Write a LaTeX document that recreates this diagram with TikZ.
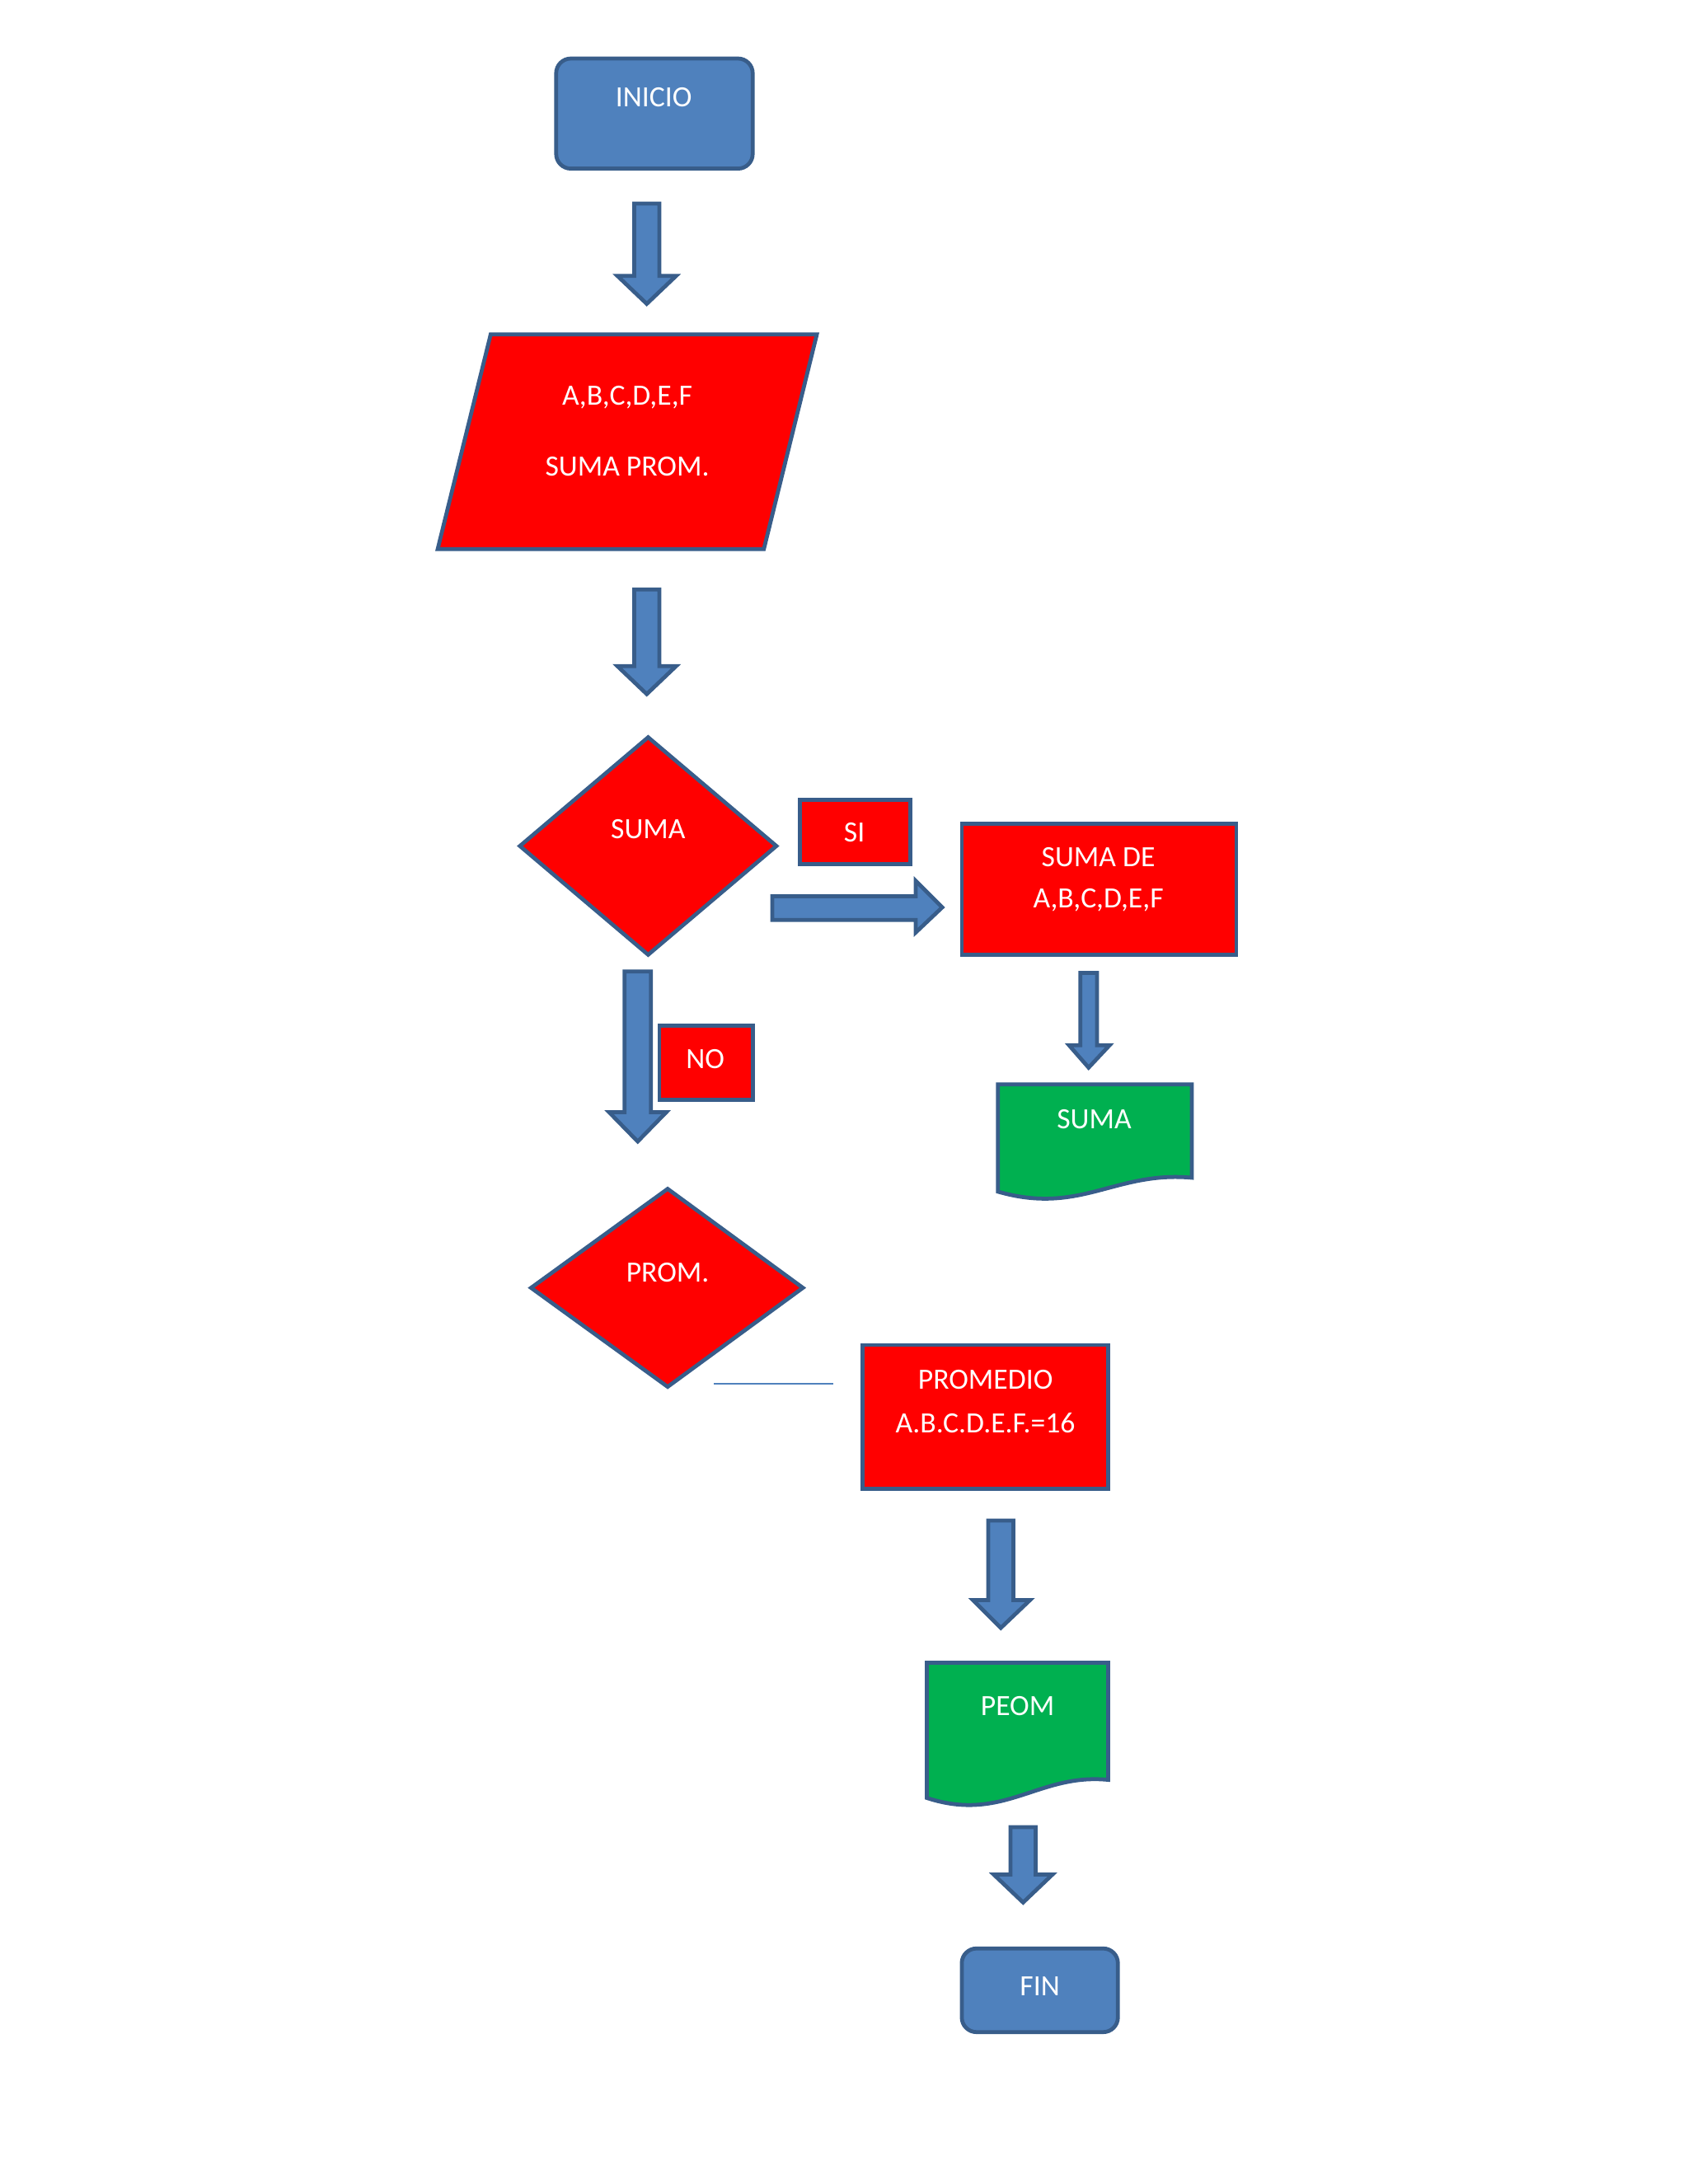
\documentclass[tikz,border=0pt]{standalone}
\usepackage{fontspec}
\setmainfont{Carlito}
\definecolor{bfill}{HTML}{4F81BD}
\definecolor{bline}{HTML}{385D8A}
\definecolor{rfill}{HTML}{FF0000}
\definecolor{gfill}{HTML}{00B050}
\newcommand{\blockdown}[7]{% shaft x1 x2, y1, neck y, head x1 x2, tip
  \draw[barrow] (#1,#3) -- (#2,#3) -- (#2,#4) -- (#6,#4) -- ({(#1+#2)/2},#7) -- (#5,#4) -- (#1,#4) -- cycle;}
\begin{document}
\begin{tikzpicture}[x=0.02cm,y=-0.02cm,
  every node/.style={font=\fontsize{12}{14}\selectfont, text=white},
  edge/.style={draw=bline, line width=1.6pt},
  barrow/.style={fill=bfill, draw=bline, line width=1.6pt, line join=miter},
  term/.style={edge, fill=bfill, rounded corners=6pt},
  red/.style={edge, fill=rfill},
  grn/.style={edge, fill=gfill}]
\useasboundingbox (0,0) rectangle (1211,1567);
% INICIO
\draw[term] (399,42) rectangle (540,121);
\node (inicio) at (469,70) {INICIO};
\blockdown{455}{473}{146}{198}{443}{485}{218}
% parallelogram
\draw[red] (352,240) -- (586,240) -- (548,394) -- (314,394) -- cycle;
\node (in1) at (450,285) {A,B,C,D,E,F};
\node (in2) at (450,335) {SUMA PROM.};
\blockdown{455}{473}{423}{478}{443}{485}{498}
% diamond SUMA
\draw[red] (465,529) -- (557,607) -- (465,685) -- (373,607) -- cycle;
\node (suma) at (465,595) {SUMA};
% SI
\draw[red] (574,574) rectangle (653,620);
\node (si) at (613,597) {SI};
% right arrow
\draw[barrow] (554,643) -- (657,643) -- (657,632) -- (676,651) -- (657,669) -- (657,660) -- (554,660) -- cycle;
% SUMA DE box
\draw[red] (690,591) rectangle (887,685);
\node (sd1) at (788,615) {SUMA DE};
\node (sd2) at (788,646) {A,B,C,D,E,F};
\blockdown{775}{787}{698}{750}{767}{796}{766}
% doc SUMA
\draw[grn] (716,778) -- (855,778) -- (855,845) .. controls (800,840) and (775,872) .. (716,855) -- cycle;
\node (dsuma) at (785,803) {SUMA};
% NO arrow
\blockdown{448}{467}{697}{798}{437}{478}{819}
\draw[red] (473,736) rectangle (540,789);
\node (no) at (506,760) {NO};
% diamond PROM
\draw[red] (479,853) -- (576,924) -- (479,995) -- (381,924) -- cycle;
\node (prom) at (479,913) {PROM.};
\coordinate (l1) at (512,993);
\coordinate (l2) at (598,993);
\draw[draw=bfill, line width=0.8pt] (l1) -- (l2);
% PROMEDIO
\draw[red] (619,965) rectangle (795,1068);
\node (p1) at (707,990) {PROMEDIO};
\node (p2) at (707,1021) {A.B.C.D.E.F.=16};
\blockdown{709}{727}{1091}{1148}{698}{739}{1168}
% doc PEOM
\draw[grn] (665,1193) -- (795,1193) -- (795,1277) .. controls (745,1272) and (720,1308) .. (665,1290) -- cycle;
\node (peom) at (730,1224) {PEOM};
\blockdown{725}{743}{1311}{1345}{713}{755}{1365}
% FIN
\draw[term] (690,1398) rectangle (802,1458);
\node (fin) at (746,1425) {FIN};
\end{tikzpicture}
\end{document}
